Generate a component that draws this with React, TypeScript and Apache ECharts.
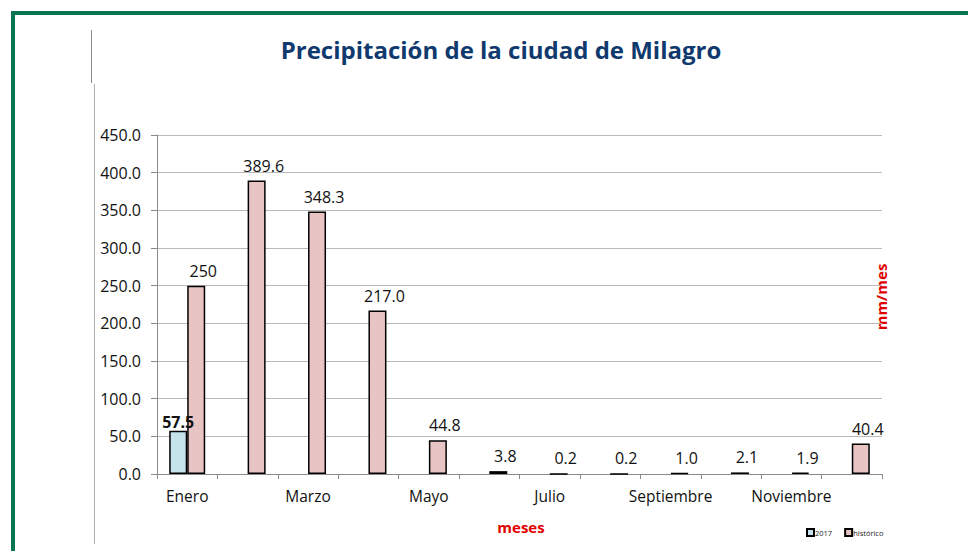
import React, { useEffect, useRef } from "react";
import * as echarts from "echarts";

const months = ["Enero", "Febrero", "Marzo", "Abril", "Mayo", "Junio", "Julio", "Agosto", "Septiembre", "Octubre", "Noviembre", "Diciembre"];
const values2017 = [57.5, null, null, null, null, null, null, null, null, null, null, null];
const historico = [250, 389.6, 348.3, 217.0, 44.8, 3.8, 0.2, 0.2, 1.0, 2.1, 1.9, 40.4];
const yTicks = { min: 0, max: 450, interval: 50 };
const titleText = "Precipitación de la ciudad de Milagro";

export default function App() {
  const ref = useRef<HTMLDivElement>(null);
  useEffect(() => {
    if (!ref.current) return;
    const chart = echarts.init(ref.current, null, { renderer: "svg" });
    const font = "'Open Sans', sans-serif";
    chart.setOption({
      animation: false,
      backgroundColor: "#ffffff",
      title: {
        text: titleText,
        left: 496,
        textAlign: "center",
        top: 32,
        textStyle: { fontFamily: font, fontWeight: "bold", fontSize: 24, color: "#103a6e" },
      },
      legend: {
        left: 801,
        top: 523,
        itemWidth: 7,
        itemHeight: 7,
        itemGap: 12,
        icon: "rect",
        textStyle: { fontFamily: font, fontSize: 7.5, color: "#222", padding: [0, 0, 0, -4] },
        data: ["2017", "histórico"],
      },
      grid: { left: 157, right: 86, top: 135, bottom: 77, containLabel: false },
      xAxis: {
        type: "category",
        data: months,
        axisLine: { lineStyle: { color: "#8a8a8a", width: 1 } },
        axisTick: { show: true, interval: 0, length: 5, lineStyle: { color: "#8a8a8a" } },
        axisLabel: { interval: 1, margin: 14, fontFamily: font, fontSize: 15.5, color: "#111" },
      },
      yAxis: {
        type: "value",
        min: yTicks.min,
        max: yTicks.max,
        interval: yTicks.interval,
        axisLine: { show: true, lineStyle: { color: "#8a8a8a", width: 1 } },
        axisTick: { show: true, length: 6, lineStyle: { color: "#8a8a8a" } },
        splitLine: { lineStyle: { color: "#b8b8b8", width: 1 } },
        axisLabel: {
          margin: 16,
          fontFamily: font,
          fontSize: 16,
          color: "#111",
          formatter: (v: number) => v.toFixed(1),
        },
      },
      series: [
        {
          name: "2017",
          type: "bar",
          data: values2017,
          barWidth: 18,
          barGap: "0%",
          itemStyle: { color: "#c6e3ec", borderColor: "#000", borderWidth: 1.5 },
          label: {
            show: true,
            position: "top",
            distance: 1,
            fontFamily: font,
            fontWeight: "bold",
            fontSize: 16,
            color: "#111",
            formatter: (p: any) => Number(p.value).toFixed(1),
          },
        },
        {
          name: "histórico",
          type: "bar",
          data: historico,
          barWidth: 18,
          itemStyle: { color: "#e8c4c4", borderColor: "#000", borderWidth: 1.5 },
          label: {
            show: true,
            position: "top",
            distance: 7,
            offset: [7, 0],
            fontFamily: font,
            fontSize: 16,
            color: "#111",
            formatter: (p: any) => (p.dataIndex === 0 ? String(p.value) : Number(p.value).toFixed(1)),
          },
        },
      ],
      graphic: [
        { type: "rect", shape: { x: 11, y: 11, width: 957, height: 4 }, style: { fill: "#0b7451" }, silent: true },
        { type: "rect", shape: { x: 11, y: 11, width: 4, height: 540 }, style: { fill: "#0b7451" }, silent: true },
        { type: "line", shape: { x1: 91.5, y1: 30, x2: 91.5, y2: 83 }, style: { stroke: "#8c8c8c", lineWidth: 1 }, silent: true },
        { type: "line", shape: { x1: 94.5, y1: 84, x2: 94.5, y2: 544 }, style: { stroke: "#b0b0b0", lineWidth: 1 }, silent: true },
        {
          type: "text",
          x: 521,
          y: 527,
          style: { text: "meses", fontFamily: font, fontWeight: "bold", fontSize: 15, fill: "#e00000", align: "center", verticalAlign: "middle" },
        },
        {
          type: "text",
          x: 881,
          y: 297,
          rotation: Math.PI / 2,
          style: { text: "mm/mes", fontFamily: font, fontWeight: "bold", fontSize: 15, fill: "#e00000", align: "center", verticalAlign: "middle" },
        },
      ],
    });
    return () => chart.dispose();
  }, []);
  return <div ref={ref} style={{ position: "fixed", left: 0, top: 0, width: 968, height: 551 }} />;
}
